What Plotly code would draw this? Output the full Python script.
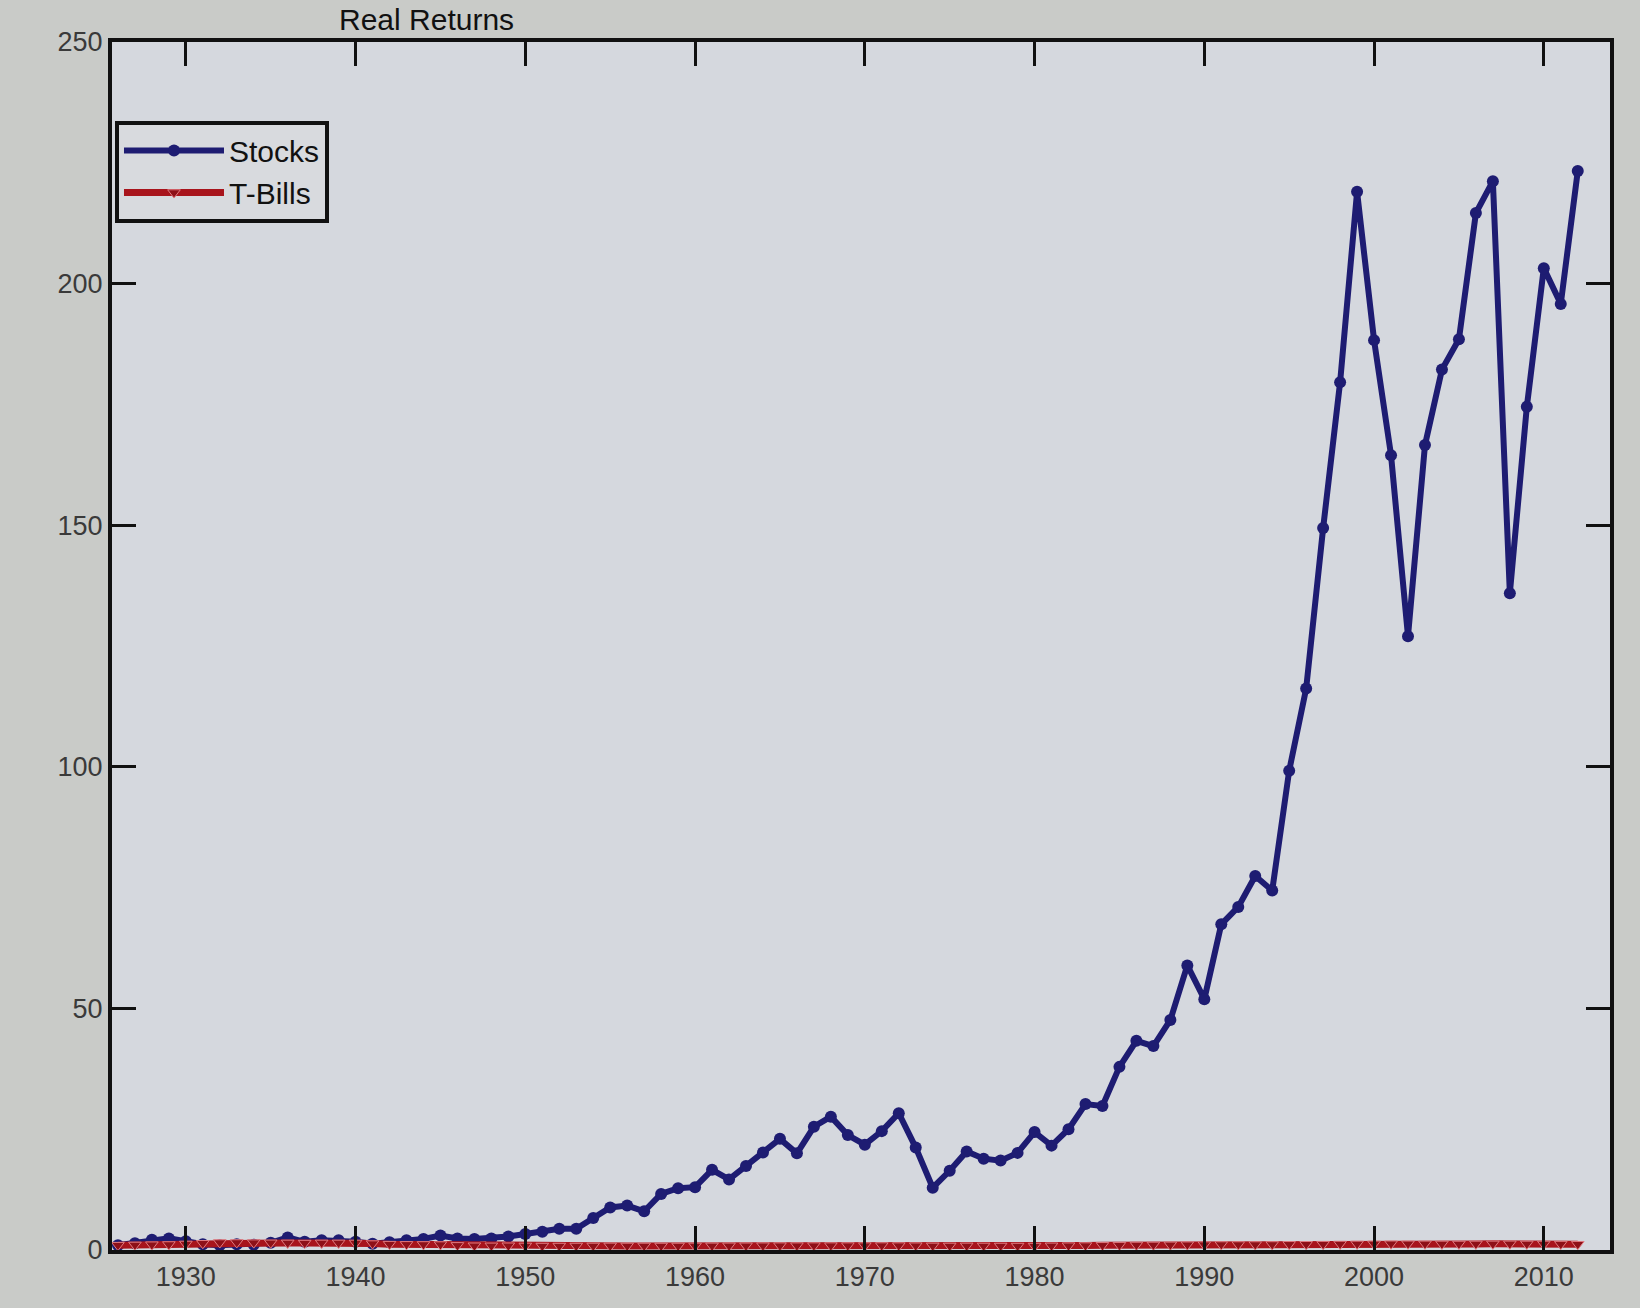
import plotly.graph_objects as go

# Annual series, 1926-2012
years = list(range(1926, 2013))

stocks = [
    1.0, 1.4, 2.1, 2.4, 1.8, 1.2, 1.0, 1.2, 1.1, 1.5,
    2.6, 1.7, 2.0, 2.0, 1.7, 1.3, 1.6, 2.0, 2.3, 3.0,
    2.4, 2.3, 2.4, 2.8, 3.3, 3.8, 4.4, 4.4, 6.6, 8.8,
    9.2, 8.0, 11.6, 12.8, 13.0, 16.6, 14.6, 17.4, 20.2, 23.0,
    20.0, 25.5, 27.6, 23.8, 21.8, 24.6, 28.3, 21.2, 12.9, 16.4,
    20.4, 18.9, 18.5, 20.1, 24.4, 21.6, 25.0, 30.2, 29.8, 37.9,
    43.3, 42.2, 47.6, 58.9, 51.9, 67.4, 71.0, 77.4, 74.4, 99.2,
    116.2, 149.4, 179.6, 219.0, 188.3, 164.5, 127.0, 166.6, 182.2, 188.5,
    214.6, 221.2, 135.9, 174.5, 203.2, 195.8, 223.3,
]

tbills = [
    1.00, 1.05, 1.10, 1.14, 1.25, 1.39, 1.55, 1.56, 1.53, 1.49,
    1.47, 1.43, 1.47, 1.47, 1.46, 1.33, 1.21, 1.17, 1.15, 1.13,
    0.96, 0.88, 0.86, 0.88, 0.84, 0.82, 0.82, 0.83, 0.84, 0.85,
    0.84, 0.84, 0.83, 0.84, 0.85, 0.86, 0.87, 0.88, 0.89, 0.90,
    0.90, 0.91, 0.91, 0.91, 0.91, 0.92, 0.91, 0.89, 0.85, 0.84,
    0.85, 0.84, 0.83, 0.82, 0.82, 0.86, 0.89, 0.92, 0.97, 1.00,
    1.04, 1.05, 1.07, 1.10, 1.12, 1.14, 1.14, 1.14, 1.15, 1.18,
    1.19, 1.21, 1.24, 1.26, 1.28, 1.30, 1.29, 1.28, 1.26, 1.25,
    1.26, 1.27, 1.28, 1.26, 1.25, 1.22, 1.20,
]

x_ticks = [1930, 1940, 1950, 1960, 1970, 1980, 1990, 2000, 2010]
y_ticks = [0, 50, 100, 150, 200, 250]

FONT = "Liberation Sans, Arial, sans-serif"

fig = go.Figure()
fig.add_trace(go.Scatter(
    x=years, y=stocks, name="Stocks", mode="lines+markers",
    line=dict(color="#1e1c72", width=6),
    marker=dict(symbol="circle", size=12, color="#1e1c72"),
))
fig.add_trace(go.Scatter(
    x=years, y=tbills, name="T-Bills", mode="lines+markers",
    line=dict(color="#a8141c", width=7),
    marker=dict(symbol="triangle-down", size=11, color="#8e1018",
                line=dict(color="#e07a80", width=1)),
))

axis_common = dict(
    showline=True, linecolor="#111111", linewidth=4, mirror="allticks",
    ticks="inside", ticklen=24, tickwidth=3, tickcolor="#111111",
    showgrid=False, zeroline=False,
    tickfont=dict(family=FONT, size=27, color="#3a3a3a"),
)

fig.update_xaxes(range=[1925.65, 2013.9], tickvals=x_ticks, **axis_common)
fig.update_yaxes(range=[0, 250], tickvals=y_ticks, **axis_common)

# Chart title, set in the narrow strip above the axes box
fig.add_annotation(
    text="Real Returns", xref="paper", yref="paper", x=0.15, y=1.0,
    xanchor="left", yanchor="bottom", yshift=4, showarrow=False,
    font=dict(family=FONT, size=30, color="#111111"),
)

fig.update_layout(
    width=1640, height=1308,
    margin=dict(l=112, r=30, t=42, b=58),
    paper_bgcolor="#c9cbc8",
    plot_bgcolor="#d5d8de",
    showlegend=True,
    legend=dict(
        x=0.002, y=0.935, xanchor="left", yanchor="top",
        bgcolor="#d8dade", bordercolor="#111111", borderwidth=4,
        font=dict(family=FONT, size=30, color="#111111"),
        itemwidth=100, tracegroupgap=0,
    ),
)

fig.write_html("out.html")
